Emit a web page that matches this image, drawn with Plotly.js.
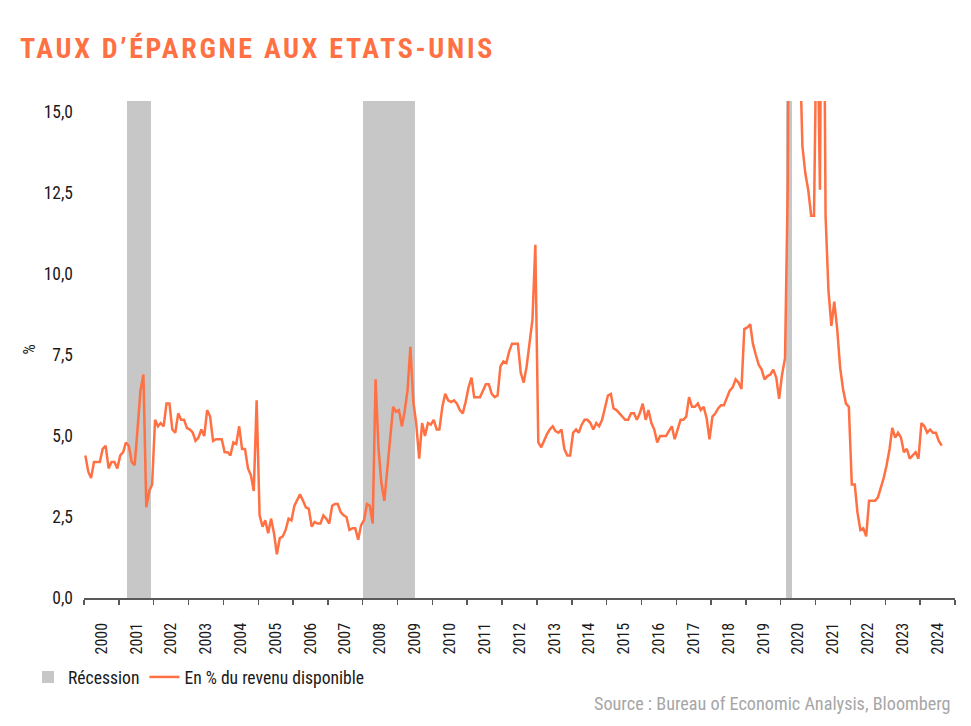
<!DOCTYPE html>
<html><head><meta charset="utf-8">
<script src="https://cdn.plot.ly/plotly-3.0.1.min.js"></script>
<style>
html,body{margin:0;padding:0;background:#fff;}
#chart{width:971px;height:726px;}
.gtitle{letter-spacing:2.7px;}
</style></head><body><div id="chart"></div>
<script>
// ---- Data (monthly personal saving rate, % of disposable income) ----
const years = [2000,2001,2002,2003,2004,2005,2006,2007,2008,2009,2010,2011,2012,2013,2014,2015,2016,2017,2018,2019,2020,2021,2022,2023,2024];
const rate2000 = [4.4, 3.9, 3.7, 4.2, 4.2, 4.2, 4.6, 4.7, 4.0, 4.2, 4.2, 4.0];
const rate2001 = [4.4, 4.5, 4.8, 4.7, 4.2, 4.1, 5.2, 6.4, 6.9, 2.8, 3.3, 3.5];
const rate2002 = [5.5, 5.3, 5.4, 5.3, 6.0, 6.0, 5.2, 5.1, 5.7, 5.5, 5.5, 5.25];
const rate2003 = [5.2, 5.1, 4.85, 4.95, 5.2, 5.0, 5.8, 5.6, 4.85, 4.9, 4.9, 4.9];
const rate2004 = [4.5, 4.5, 4.4, 4.8, 4.75, 5.3, 4.6, 4.6, 4.0, 3.8, 3.3, 6.1];
const rate2005 = [2.55, 2.2, 2.4, 2.0, 2.45, 2.0, 1.35, 1.85, 1.9, 2.1, 2.45, 2.4];
const rate2006 = [2.85, 3.05, 3.2, 3.0, 2.8, 2.75, 2.2, 2.35, 2.3, 2.3, 2.55, 2.45];
const rate2007 = [2.3, 2.85, 2.9, 2.9, 2.65, 2.55, 2.5, 2.1, 2.15, 2.15, 1.8, 2.25];
const rate2008 = [2.4, 2.9, 2.85, 2.3, 6.75, 4.6, 3.55, 3.0, 3.95, 5.0, 5.9, 5.75];
const rate2009 = [5.8, 5.3, 5.75, 6.4, 7.75, 6.05, 5.4, 4.3, 5.4, 5.0, 5.4, 5.35];
const rate2010 = [5.5, 5.2, 5.2, 5.9, 6.3, 6.1, 6.05, 6.1, 6.0, 5.8, 5.7, 6.05];
const rate2011 = [6.5, 6.8, 6.2, 6.2, 6.2, 6.4, 6.6, 6.6, 6.3, 6.2, 6.25, 7.15];
const rate2012 = [7.3, 7.25, 7.6, 7.85, 7.85, 7.85, 6.95, 6.65, 7.15, 7.8, 8.6, 10.9];
const rate2013 = [4.8, 4.65, 4.85, 5.05, 5.2, 5.3, 5.15, 5.1, 5.2, 4.6, 4.4, 4.4];
const rate2014 = [5.1, 5.2, 5.1, 5.35, 5.5, 5.5, 5.4, 5.2, 5.4, 5.3, 5.5, 5.9];
const rate2015 = [6.25, 6.3, 5.85, 5.8, 5.7, 5.6, 5.5, 5.5, 5.7, 5.7, 5.5, 5.7];
const rate2016 = [6.0, 5.5, 5.8, 5.4, 5.2, 4.8, 5.0, 5.0, 5.0, 5.15, 5.3, 4.9];
const rate2017 = [5.2, 5.5, 5.5, 5.6, 6.2, 5.9, 5.9, 6.0, 5.8, 5.9, 5.55, 4.9];
const rate2018 = [5.6, 5.7, 5.85, 5.95, 5.95, 6.2, 6.4, 6.5, 6.75, 6.65, 6.45, 8.3];
const rate2019 = [8.35, 8.45, 7.85, 7.5, 7.2, 7.05, 6.75, 6.85, 6.9, 7.05, 6.8, 6.15];
const rate2020 = [6.9, 7.4, 12.8, 32.0, 24.5, 19.0, 17.5, 13.95, 13.1, 12.6, 11.8, 11.8];
const rate2021 = [19.0, 12.6, 26.0, 11.8, 9.5, 8.4, 9.15, 8.3, 7.1, 6.45, 6.0, 5.9];
const rate2022 = [3.5, 3.5, 2.65, 2.1, 2.15, 1.9, 3.0, 3.0, 3.0, 3.1, 3.4, 3.7];
const rate2023 = [4.1, 4.6, 5.25, 4.95, 5.1, 4.95, 4.5, 4.6, 4.3, 4.4, 4.5, 4.3];
const rate2024 = [5.4, 5.3, 5.1, 5.2, 5.1, 5.1, 4.85, 4.7];

const ratesByYear = [rate2000,rate2001,rate2002,rate2003,rate2004,rate2005,rate2006,rate2007,rate2008,rate2009,rate2010,rate2011,rate2012,rate2013,rate2014,rate2015,rate2016,rate2017,rate2018,rate2019,rate2020,rate2021,rate2022,rate2023,rate2024];

const recessionStart = ['2001-04-01','2008-01-01','2020-03-01'];
const recessionEnd   = ['2001-12-01','2009-07-01','2020-05-01'];

const yTicks = [0, 2.5, 5, 7.5, 10, 12.5, 15];
const yTop = 15.34;

const titleText = 'TAUX D’ÉPARGNE AUX ETATS-UNIS';
const seriesName = 'En % du revenu disponible';
const recessionName = 'Récession';
const sourceText = 'Source : Bureau of Economic Analysis, Bloomberg';

// ---- Build traces ----
const pad = n => (n < 10 ? '0' + n : '' + n);
const dates = [], values = [];
years.forEach((y, yi) => {
  ratesByYear[yi].forEach((v, mi) => {
    dates.push(y + '-' + pad(mi + 1) + '-15');
    values.push(v);
  });
});

const recMid = [], recWidth = [], recY = [];
recessionStart.forEach((s, i) => {
  const a = new Date(s + 'T00:00:00Z').getTime();
  const b = new Date(recessionEnd[i] + 'T00:00:00Z').getTime();
  recMid.push(new Date((a + b) / 2).toISOString());
  recWidth.push(b - a);
  recY.push(yTop);
});

const NARROW = '"Roboto Condensed", "Liberation Sans", sans-serif';
const ORANGE = '#FF7043';
const TXT = '#1a1a1a';

const traces = [
  {
    type: 'bar', name: recessionName, x: recMid, y: recY, width: recWidth,
    marker: {color: '#C7C7C7', line: {width: 0}}, hoverinfo: 'skip'
  },
  {
    type: 'scatter', mode: 'lines', name: seriesName, x: dates, y: values,
    line: {color: ORANGE, width: 2.5}, hoverinfo: 'skip'
  }
];

const layout = {
  width: 971, height: 726,
  margin: {l: 84, r: 16, t: 101, b: 128, pad: 0},
  paper_bgcolor: '#ffffff', plot_bgcolor: '#ffffff',
  separators: ', ',
  showlegend: true,
  bargap: 0,
  title: {
    text: titleText, xref: 'container', yref: 'container',
    x: 20 / 971, xanchor: 'left', y: 1 - 48 / 726, yanchor: 'middle',
    font: {family: NARROW, size: 28, weight: 700, color: ORANGE}
  },
  xaxis: {
    type: 'date', range: ['2000-01-01', '2025-01-01'],
    tick0: '2000-01-01', dtick: 'M12', tickformat: '%Y', ticklabelmode: 'period',
    tickangle: -90, ticks: 'outside', ticklen: 5, tickwidth: 1.5, tickcolor: '#595959',
    ticklabelstandoff: 12,
    showline: true, linecolor: '#595959', linewidth: 1.5,
    showgrid: false, zeroline: false, fixedrange: true,
    tickfont: {family: NARROW, size: 16, color: TXT}
  },
  yaxis: {
    range: [0, yTop], tickmode: 'array', tickvals: yTicks, tickformat: '.1f',
    showgrid: false, zeroline: false, showline: false, ticks: '',
    ticklabelstandoff: 10, fixedrange: true,
    tickfont: {family: NARROW, size: 17.5, color: TXT},
    title: {text: '%', standoff: 4, font: {family: NARROW, size: 16, color: TXT}}
  },
  legend: {
    orientation: 'h', xref: 'container', yref: 'container',
    x: 28 / 971, xanchor: 'left', y: 1 - 677 / 726, yanchor: 'middle',
    font: {family: NARROW, size: 17.6, color: TXT},
    bgcolor: 'rgba(0,0,0,0)', traceorder: 'normal'
  },
  annotations: [{
    text: sourceText, showarrow: false, xref: 'paper', yref: 'paper',
    x: (953 - 84) / 871, xanchor: 'right', y: (598 - 703) / 497, yanchor: 'middle',
    font: {family: NARROW, size: 18.2, color: '#A6A6A6'}
  }]
};

Plotly.newPlot('chart', traces, layout, {displayModeBar: false, staticPlot: true});
</script></body></html>
